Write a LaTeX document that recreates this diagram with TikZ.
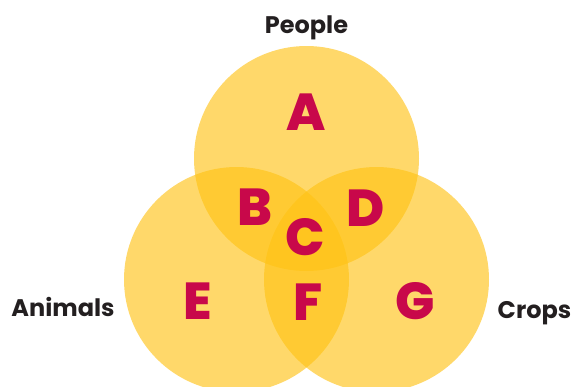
\documentclass[tikz,border=0pt]{standalone}
\usepackage{fontspec}
\setmainfont{Poppins}
\newfontfamily\letterfont{Poppins ExtraBold}
\definecolor{setfill}{RGB}{255,194,19}
\definecolor{lettercol}{RGB}{200,8,74}
\definecolor{labelcol}{RGB}{35,31,32}
\begin{document}
\begin{tikzpicture}[x=1pt,y=-1pt,
  setcircle/.style={fill=setfill,fill opacity=0.63,draw=none},
  region/.style={text=lettercol,font=\fontsize{52}{52}\letterfont,inner sep=0pt,anchor=center},
  setlabel/.style={text=labelcol,font=\fontsize{24}{24}\selectfont\bfseries,inner sep=0pt,anchor=base}]
  \useasboundingbox (0,0) rectangle (573,386);
  % the three sets
  \begin{scope}
    \clip (0,0) rectangle (573,386);
    \fill[setcircle] (306.5,158.5) circle (112.5);
    \fill[setcircle] (236.5,279.5) circle (112.5);
    \fill[setcircle] (376.5,279.5) circle (112.5);
  \end{scope}
  % set names
  \node[setlabel] (people) at (306.5,33) {People};
  \node[setlabel] (animals) at (63,316.5) {Animals};
  \node[setlabel] (crops) at (534.5,318) {Crops};
  % region letters
  \node[region] (A) at (306,112) {A};
  \node[region] (B) at (255,207) {B};
  \node[region] (C) at (305,237) {C};
  \node[region] (D) at (366,208) {D};
  \node[region] (E) at (198,301) {E};
  \node[region] (F) at (308,302) {F};
  \node[region] (G) at (415.5,301) {G};
\end{tikzpicture}
\end{document}
